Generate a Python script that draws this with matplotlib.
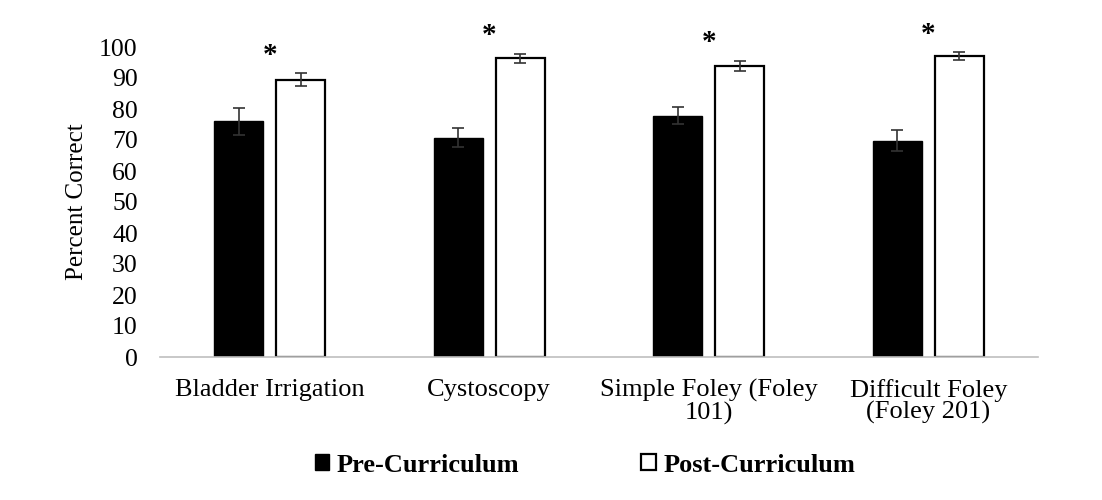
import matplotlib
matplotlib.use("Agg")
import matplotlib.pyplot as plt
import numpy as np

categories = ["Bladder Irrigation", "Cystoscopy", "Simple Foley (Foley\n101)", "Difficult Foley\n(Foley 201)"]
pre_vals = [76.0, 70.8, 77.8, 69.8]
pre_err = [4.3, 3.0, 2.7, 3.4]
post_vals = [89.5, 96.4, 94.0, 97.1]
post_err = [2.0, 1.5, 1.6, 1.2]
series_labels = ["Pre-Curriculum", "Post-Curriculum"]
yticks = list(range(0, 101, 10))

plt.rcParams['font.family'] = ['Liberation Serif', 'DejaVu Serif']

fig = plt.figure(figsize=(11.02, 5.0), dpi=100)
ax = fig.add_axes([160/1102, 1-357/500, 878/1102, 310/500])

x = np.arange(len(categories))
w = 0.223
off = 0.141
ax.bar(x - off, pre_vals, w, color='black', edgecolor='black', label=series_labels[0], zorder=2)
ax.bar(x + off, post_vals, w, color='white', edgecolor='black', linewidth=1.6, label=series_labels[1], zorder=2)
ax.errorbar(x - off, pre_vals, yerr=pre_err, fmt='none', ecolor='#333333', elinewidth=1.2, capsize=4, capthick=1.2, zorder=3)
ax.errorbar(x + off, post_vals, yerr=post_err, fmt='none', ecolor='#333333', elinewidth=1.2, capsize=4, capthick=1.2, zorder=3)

for xi, v, e in zip(x, post_vals, post_err):
    ax.annotate('*', xy=(xi, v + e), xytext=(0, 3), textcoords='offset points',
                ha='center', va='bottom', fontsize=21, fontweight='bold')

ax.set_xlim(-0.5, len(categories) - 0.5)
ax.set_ylim(0, 100)
ax.set_yticks(yticks)
ax.set_xticks(x)
ax.set_xticklabels(categories, fontsize=19, linespacing=0.95)
ax.tick_params(axis='y', labelsize=18.5, length=0, pad=16)
ax.tick_params(axis='x', length=0, pad=16)
for s in ['top', 'right', 'left']:
    ax.spines[s].set_visible(False)
ax.spines['bottom'].set_color('#bfbfbf')
ax.spines['bottom'].set_linewidth(1.2)
ax.set_ylabel('Percent Correct', fontsize=18, labelpad=8)

leg = fig.legend(loc='center', bbox_to_anchor=(585/1102, 1-465/500), ncol=2, frameon=False,
                 prop={'weight': 'bold', 'size': 19}, handlelength=0.55, handleheight=0.55,
                 handletextpad=0.3, columnspacing=4.6)

fig.savefig('out.png', dpi=100)
